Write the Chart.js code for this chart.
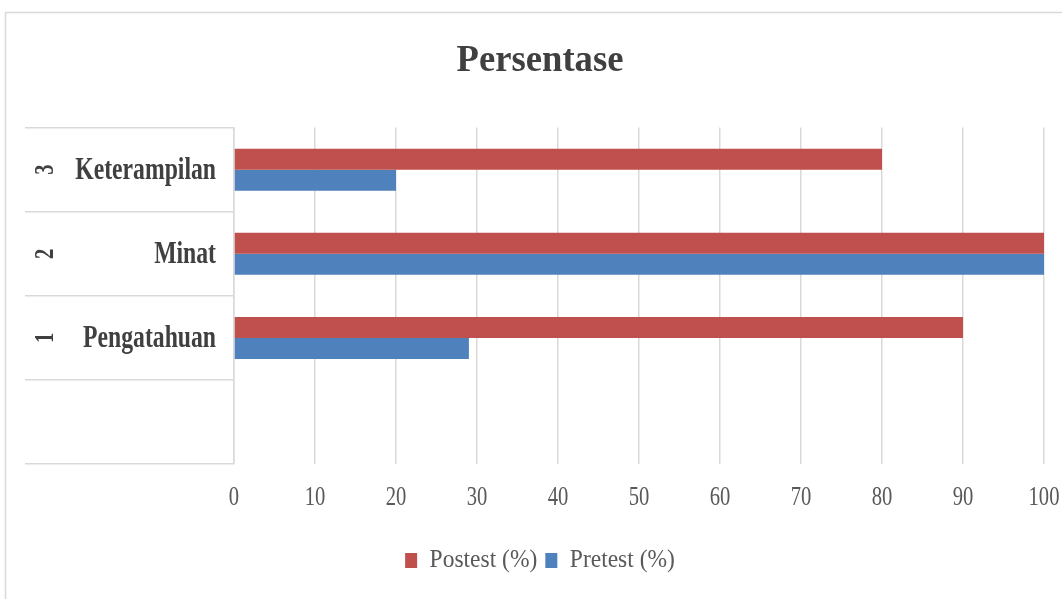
<!DOCTYPE html>
<html>
<head>
<meta charset="utf-8">
<script src="https://cdn.jsdelivr.net/npm/chart.js@4.4.1/dist/chart.umd.min.js"></script>
<style>
    html, body { margin: 0; padding: 0; background: #fff; }
    #wrap { width: 1062px; height: 599px; }
</style>
</head>
<body>
<div id="wrap"><canvas id="barChart"></canvas></div>
<script>
// data (top row first)
var categories = ['Keterampilan', 'Minat', 'Pengatahuan', ''];
var numbers = ['3', '2', '1', ''];
var postest = [80, 100, 90, null];
var pretest = [20, 100, 29, null];
var xTicks = [0, 10, 20, 30, 40, 50, 60, 70, 80, 90, 100];

// the original text is horizontally narrow, squeeze it per font size
var squeezeBySize = { '38': 0.965, '32': 0.74, '27': 0.765, '25': 0.94 };
function squeezeFor(font) {
    var m = /(\d+(?:\.\d+)?)px/.exec(font);
    return (m && squeezeBySize[m[1]]) ? squeezeBySize[m[1]] : 1;
}

var canvas = document.getElementById('barChart');
var ctx = canvas.getContext('2d');
var rawFill = ctx.fillText;
var rawMeasure = ctx.measureText;
ctx.fillText = function (text, x, y, maxWidth) {
    var s = squeezeFor(this.font);
    this.save();
    this.translate(x, y);
    this.scale(s, 1);
    if (maxWidth !== undefined) {
        rawFill.call(this, text, 0, 0, maxWidth / s);
    } else {
        rawFill.call(this, text, 0, 0);
    }
    this.restore();
};
ctx.measureText = function (text) {
    var m = rawMeasure.call(this, text);
    var s = squeezeFor(this.font);
    return {
        width: m.width * s,
        actualBoundingBoxAscent: m.actualBoundingBoxAscent,
        actualBoundingBoxDescent: m.actualBoundingBoxDescent,
        actualBoundingBoxLeft: m.actualBoundingBoxLeft * s,
        actualBoundingBoxRight: m.actualBoundingBoxRight * s
    };
};

// frame round the chart + the two level category labels
var chartDecor = {
    id: 'chartDecor',
    beforeDraw: function (chart) {
        var c = chart.ctx;
        c.save();
        c.strokeStyle = '#d9d9d9';
        c.lineWidth = 1.5;
        c.beginPath();
        c.moveTo(5.5, 599);
        c.lineTo(5.5, 12.5);
        c.lineTo(1062, 12.5);
        c.stroke();
        c.restore();
    },
    afterDraw: function (chart) {
        var c = chart.ctx;
        var yScale = chart.scales.y;
        c.save();
        c.fillStyle = '#404040';
        categories.forEach(function (name, i) {
            var y = yScale.getPixelForValue(i);
            c.font = "bold 32px 'Liberation Serif'";
            c.textAlign = 'right';
            c.textBaseline = 'alphabetic';
            c.fillText(name, 216, y + 9);

            c.save();
            c.translate(53, y);
            c.rotate(-Math.PI / 2);
            c.font = "bold 27px 'Liberation Serif'";
            c.textAlign = 'center';
            c.textBaseline = 'alphabetic';
            c.fillText(numbers[i], 0, 0);
            c.restore();
        });
        c.restore();
    }
};

var barChart = new Chart(ctx, {
    type: 'bar',
    data: {
        labels: categories,
        datasets: [
            {
                label: 'Postest (%)',
                data: postest,
                backgroundColor: '#C0504D',
                borderWidth: 0
            },
            {
                label: 'Pretest (%)',
                data: pretest,
                backgroundColor: '#4F81BD',
                borderWidth: 0
            }
        ]
    },
    options: {
        indexAxis: 'y',
        responsive: true,
        maintainAspectRatio: false,
        animation: false,
        categoryPercentage: 0.5,
        barPercentage: 1,
        layout: {
            padding: { top: 12, left: 20, right: 2, bottom: 16 }
        },
        scales: {
            x: {
                min: 0,
                max: 100,
                afterBuildTicks: function (scale) {
                    scale.ticks = xTicks.map(function (v) { return { value: v }; });
                },
                afterFit: function (scale) {
                    scale.height += 23;
                },
                grid: {
                    color: '#d9d9d9',
                    lineWidth: 1.5,
                    drawTicks: true,
                    tickLength: 15.5,
                    tickColor: 'rgba(0,0,0,0)'
                },
                border: { display: false },
                ticks: {
                    padding: 2.5,
                    maxRotation: 0,
                    autoSkip: false,
                    color: '#595959',
                    font: { family: "'Liberation Serif'", size: 27 }
                }
            },
            y: {
                afterFit: function (scale) {
                    scale.width = 214;
                },
                grid: {
                    color: '#d9d9d9',
                    lineWidth: 1.5,
                    drawOnChartArea: false,
                    drawTicks: true,
                    tickLength: 209,
                    offset: true
                },
                border: { display: true, color: '#d9d9d9', width: 1.5 },
                ticks: { display: false }
            }
        },
        plugins: {
            title: {
                display: true,
                text: 'Persentase',
                color: '#404040',
                font: { family: "'Liberation Serif'", size: 38, weight: 'bold' },
                padding: { top: 26, bottom: 44 }
            },
            legend: {
                position: 'bottom',
                labels: {
                    color: '#595959',
                    boxWidth: 12,
                    boxHeight: 15,
                    padding: 8,
                    font: { family: "'Liberation Serif'", size: 25 }
                }
            },
            tooltip: { enabled: false }
        }
    },
    plugins: [chartDecor]
});
</script>
</body>
</html>
